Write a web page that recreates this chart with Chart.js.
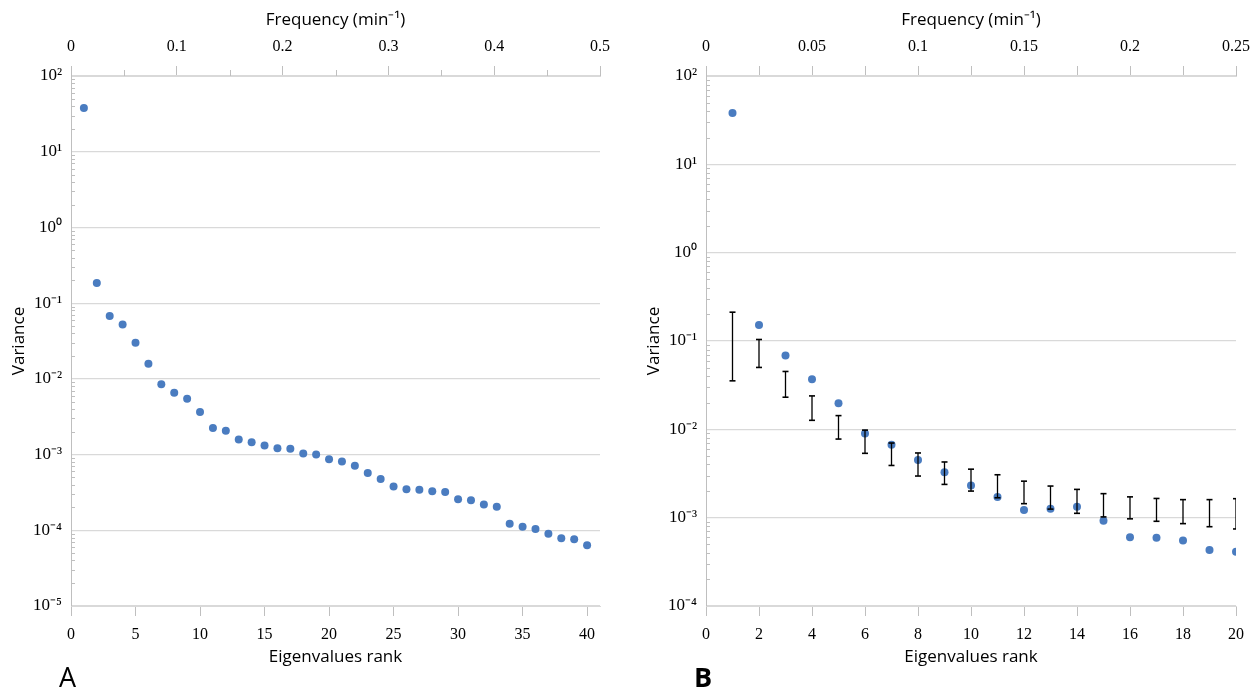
<!DOCTYPE html>
<html>
<head>
<meta charset="utf-8">
<script src="https://cdn.jsdelivr.net/npm/chart.js@4.4.1/dist/chart.umd.min.js"></script>
<style>
  body { margin: 0; background: #fff; width: 1250px; height: 691px; overflow: hidden; position: relative; }
  canvas { position: absolute; top: 0; }
  #chartA { left: 0; }
  #chartB { left: 635px; }
  .panel { position: absolute; top: 662px; font-family: "Open Sans", sans-serif; font-size: 27px; line-height: 30px; color: #000; }
  #labelA { left: 59px; }
  #labelB { left: 694px; font-weight: bold; }
</style>
</head>
<body>
<canvas id="chartA" width="625" height="691"></canvas>
<canvas id="chartB" width="615" height="691"></canvas>
<div class="panel" id="labelA">A</div>
<div class="panel" id="labelB">B</div>
<script>
// Panel A: eigenvalue spectrum, ranks 1-40
const rankA = [1, 2, 3, 4, 5, 6, 7, 8, 9, 10, 11, 12, 13, 14, 15, 16, 17, 18, 19, 20,
  21, 22, 23, 24, 25, 26, 27, 28, 29, 30, 31, 32, 33, 34, 35, 36, 37, 38, 39, 40];
const varianceA = [37.8, 0.185, 0.0675, 0.0523, 0.030, 0.0158, 0.0085, 0.00654, 0.00546, 0.00364,
  0.00224, 0.00207, 0.00158, 0.00145, 0.00132, 0.00121, 0.00119, 0.00103, 0.00100, 0.00087,
  0.00081, 0.00071, 0.00057, 0.000475, 0.00038, 0.000348, 0.000344, 0.000327, 0.000321, 0.000257,
  0.000249, 0.000219, 0.000204, 0.000122, 0.000111, 0.000104, 0.0000903, 0.0000785, 0.0000762, 0.0000636];

// Panel B: first 20 eigenvalues with surrogate ranges
const rankB = [1, 2, 3, 4, 5, 6, 7, 8, 9, 10, 11, 12, 13, 14, 15, 16, 17, 18, 19, 20];
const varianceB = [38.0, 0.152, 0.0687, 0.037, 0.0197, 0.0090, 0.0067, 0.0045, 0.00326, 0.00232,
  0.00171, 0.00122, 0.00126, 0.00133, 0.00092, 0.00060, 0.000594, 0.00055, 0.000431, 0.00041];
const errHighB = [0.212, 0.104, 0.0452, 0.0239, 0.0143, 0.0098, 0.0070, 0.0054, 0.00427, 0.00354,
  0.00306, 0.00259, 0.00228, 0.00209, 0.00187, 0.00172, 0.00165, 0.0016, 0.0016, 0.00164];
const errLowB = [0.0354, 0.0502, 0.0231, 0.01265, 0.00776, 0.00535, 0.0039, 0.00296, 0.00238, 0.0020,
  0.00168, 0.00144, 0.00125, 0.00112, 0.00102, 0.00097, 0.00091, 0.000856, 0.00079, 0.000745];

// Axis ticks
const rankTicksA = [0, 5, 10, 15, 20, 25, 30, 35, 40];
const rankTicksB = [0, 2, 4, 6, 8, 10, 12, 14, 16, 18, 20];
const freqTicksA = [0, 0.05, 0.1, 0.15, 0.2, 0.25, 0.3, 0.35, 0.4, 0.45, 0.5];
const freqLabelsA = ['0', '', '0.1', '', '0.2', '', '0.3', '', '0.4', '', '0.5'];
const freqTicksB = [0, 0.025, 0.05, 0.075, 0.1, 0.125, 0.15, 0.175, 0.2, 0.225, 0.25];
const freqLabelsB = ['0', '', '0.05', '', '0.1', '', '0.15', '', '0.2', '', '0.25'];
const varTicksA = [1e-5, 1e-4, 1e-3, 1e-2, 1e-1, 1, 10, 100];
const varLabelsA = ['10⁻⁵', '10⁻⁴', '10⁻³', '10⁻²', '10⁻¹', '10⁰', '10¹', '10²'];
const varTicksB = [1e-4, 1e-3, 1e-2, 1e-1, 1, 10, 100];
const varLabelsB = ['10⁻⁴', '10⁻³', '10⁻²', '10⁻¹', '10⁰', '10¹', '10²'];

const dotColor = 'rgb(74, 124, 192)';
const gridColor = '#d9d9d9';
const axisColor = '#bfbfbf';
const serif = "'Liberation Serif', 'Times New Roman', serif";
const tickFont = { family: serif, size: 16 };
const titleFont = { family: "'Open Sans', sans-serif", size: 17 };

// small log minor ticks inside the plot, plus short minor ticks on the top axis
const minorTicks = {
  id: 'minorTicks',
  afterDatasetsDraw(chart, args, opts) {
    const y = chart.scales.y;
    const ctx = chart.ctx;
    const area = chart.chartArea;
    const lo = Math.round(Math.log10(y.min));
    const hi = Math.round(Math.log10(y.max));
    ctx.save();
    ctx.strokeStyle = axisColor;
    ctx.lineWidth = 1;
    ctx.beginPath();
    for (let d = lo; d < hi; d++) {
      for (let m = 2; m <= 9; m++) {
        const py = Math.round(y.getPixelForValue(m * Math.pow(10, d))) + 0.5;
        ctx.moveTo(area.left, py);
        ctx.lineTo(area.left + 4, py);
      }
    }
    if (opts.shortMinor) {
      const x2 = chart.scales.x2;
      x2.ticks.forEach((t, i) => {
        if (opts.labels[i] !== '') return;
        const px = Math.round(x2.getPixelForValue(t.value)) + 0.5;
        ctx.moveTo(px, area.top);
        ctx.lineTo(px, area.top - 6);
      });
    }
    ctx.stroke();
    ctx.restore();
  }
};

function fixedTicks(values) {
  return (scale) => { scale.ticks = values.map(v => ({ value: v })); };
}

// keep the plot area where the layout puts it, whatever the edge labels need
function fixHeight(h) {
  return (s) => { s.height = h; s.paddingLeft = 0; s.paddingRight = 0; };
}

function makeChart(canvas, cfg) {
  const points = cfg.ranks.map((r, i) => ({ x: r, y: cfg.values[i] }));
  const datasets = [];

  if (cfg.low) {
    // error bars: vertical segments with flat caps, separated by gaps
    const bars = [];
    cfg.ranks.forEach((r, i) => {
      bars.push({ x: r, y: cfg.low[i] });
      bars.push({ x: r, y: cfg.high[i] });
      bars.push({ x: r, y: null });
    });
    datasets.push({
      type: 'line',
      data: bars,
      showLine: true,
      spanGaps: false,
      borderColor: '#000',
      borderWidth: 1.3,
      pointStyle: 'line',
      pointRadius: 3,
      pointBorderColor: '#000',
      pointBorderWidth: 1.6,
    });
  }

  datasets.push({
    type: 'scatter',
    data: points,
    backgroundColor: dotColor,
    borderColor: dotColor,
    pointRadius: 4,
    pointBorderWidth: 0,
  });

  return new Chart(canvas, {
    type: 'scatter',
    data: { datasets },
    options: {
      responsive: false,
      animation: false,
      layout: { padding: { left: 0, top: 0, bottom: 0, right: cfg.padRight } },
      plugins: {
        legend: { display: false },
        tooltip: { enabled: false },
        minorTicks: { shortMinor: cfg.shortMinor, labels: cfg.freqLabels }
      },
      scales: {
        x: {
          type: 'linear',
          position: 'bottom',
          min: 0,
          max: cfg.rankMax,
          afterBuildTicks: fixedTicks(cfg.rankTicks),
          afterFit: fixHeight(85),
          grid: { drawOnChartArea: false, drawTicks: true, tickLength: 10, tickColor: axisColor },
          border: { display: true, color: gridColor },
          ticks: { font: tickFont, color: '#000', padding: 9, maxRotation: 0, autoSkip: false },
          title: { display: true, text: 'Eigenvalues rank', font: titleFont, color: '#000', padding: { top: 0, bottom: 24 } }
        },
        x2: {
          type: 'linear',
          position: 'top',
          min: 0,
          max: cfg.freqMax,
          afterBuildTicks: fixedTicks(cfg.freqTicks),
          afterFit: fixHeight(76),
          grid: {
            drawOnChartArea: false, drawTicks: true, tickLength: 10,
            tickColor: (c) => (cfg.shortMinor && cfg.freqLabels[c.index] === '') ? 'rgba(0,0,0,0)' : axisColor
          },
          border: { display: true, color: gridColor },
          ticks: {
            font: tickFont, color: '#000', padding: 10, maxRotation: 0, autoSkip: false,
            callback: (v, i) => cfg.freqLabels[i]
          },
          title: { display: true, text: 'Frequency (min⁻¹)', font: titleFont, color: '#000', padding: { top: 10, bottom: 0 } }
        },
        y: {
          type: 'logarithmic',
          position: 'left',
          min: cfg.varTicks[0],
          max: cfg.varTicks[cfg.varTicks.length - 1],
          afterBuildTicks: fixedTicks(cfg.varTicks),
          afterFit: (s) => { s.width = 71; },
          grid: { color: gridColor, drawTicks: false, lineWidth: 1.2 },
          border: { display: true, color: axisColor },
          ticks: {
            font: { family: serif, size: 17 }, color: '#000', padding: 9, autoSkip: false,
            callback: (v) => cfg.varLabels[cfg.varTicks.findIndex(t => Math.abs(t - v) / t < 1e-6)]
          },
          title: { display: true, text: 'Variance', font: titleFont, color: '#000', padding: { top: 9, bottom: 0 } }
        }
      }
    },
    plugins: [minorTicks]
  });
}

makeChart(document.getElementById('chartA'), {
  ranks: rankA, values: varianceA,
  rankMax: 41, rankTicks: rankTicksA,
  freqMax: 0.5, freqTicks: freqTicksA, freqLabels: freqLabelsA,
  varTicks: varTicksA, varLabels: varLabelsA,
  padRight: 25, shortMinor: true
});

makeChart(document.getElementById('chartB'), {
  ranks: rankB, values: varianceB, low: errLowB, high: errHighB,
  rankMax: 20, rankTicks: rankTicksB,
  freqMax: 0.25, freqTicks: freqTicksB, freqLabels: freqLabelsB,
  varTicks: varTicksB, varLabels: varLabelsB,
  padRight: 14, shortMinor: false
});
</script>
</body>
</html>
